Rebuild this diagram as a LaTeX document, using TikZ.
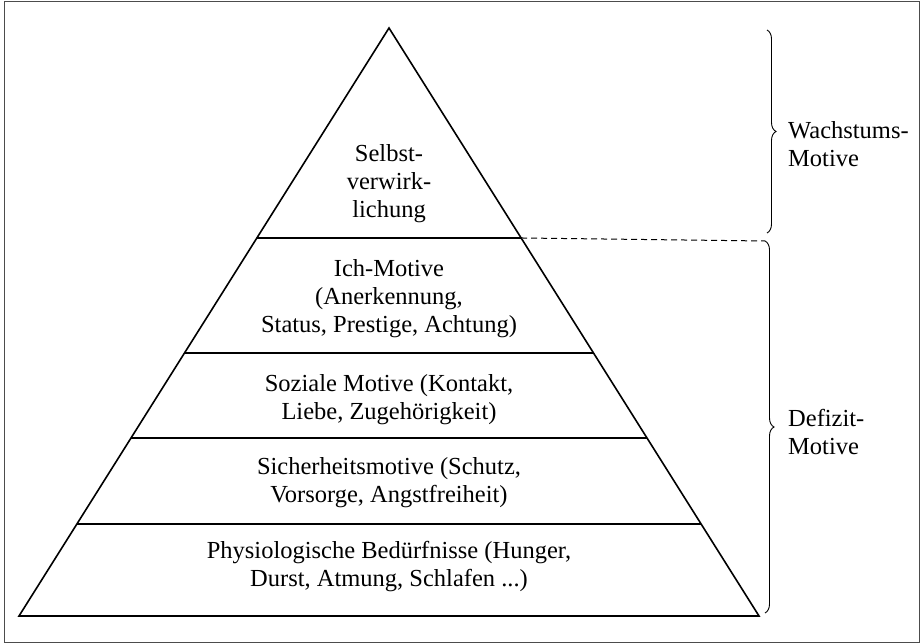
\documentclass[tikz,border=0pt]{standalone}
\usepackage{fontspec}
\setmainfont{Liberation Serif}
\usetikzlibrary{calc,decorations.pathreplacing}

\begin{document}
\begin{tikzpicture}[
  x=1pt,y=-1pt,
  lvl/.style={align=center,inner sep=0pt,font=\fontsize{24.5}{28}\selectfont},
  side/.style={align=left,anchor=west,inner sep=0pt,font=\fontsize{24.5}{28}\selectfont},
  edge/.style={line width=1.6pt,line join=miter},
  brc/.style={decorate,decoration={brace,amplitude=9pt},line width=0.9pt}
]
\useasboundingbox (0,0) rectangle (920,644);
\draw[line width=1pt,black!70] (4,2) rectangle (919.5,642);

% pyramid
\coordinate (apex) at (389,28);
\coordinate (baseL) at (19,616);
\coordinate (baseR) at (759,616);
\draw[edge] (apex) -- (baseL) -- (baseR) -- cycle;

% layer lines
\foreach \f/\n in {0.3571/a,0.5527/b,0.6973/c,0.8435/d}{
  \coordinate (lyr-\n-l) at ($(apex)!\f!(baseL)$);
  \coordinate (lyr-\n-r) at ($(apex)!\f!(baseR)$);
  \draw[line width=2pt] (lyr-\n-l) -- (lyr-\n-r);
}

\node[lvl] (self) at (389,184) {Selbst-\\verwirk-\\lichung};
\node[lvl] (ich) at (389,299) {Ich-Motive\\(Anerkennung,\\Status, Prestige, Achtung)};
\node[lvl] (sozial) at (389,400) {Soziale Motive (Kontakt,\\Liebe, Zugehörigkeit)};
\node[lvl] (sicher) at (389,483) {Sicherheitsmotive (Schutz,\\Vorsorge, Angstfreiheit)};
\node[lvl] (phys) at (389,567) {Physiologische Bedürfnisse (Hunger,\\Durst, Atmung, Schlafen ...)};

% braces
\coordinate (w1) at (767,30);
\coordinate (w2) at (767,233);
\coordinate (d1) at (765,241);
\coordinate (d2) at (765,613);
\draw[brc] (w1) -- (w2);
\draw[brc] (d1) -- (d2);
\draw[line width=1pt,dash pattern=on 6pt off 4pt] (lyr-a-r) -- (d1);

\node[side] (wachs) at (788,144) {Wachstums-\\Motive};
\node[side] (defizit) at (788,432) {Defizit-\\Motive};
\end{tikzpicture}
\end{document}
